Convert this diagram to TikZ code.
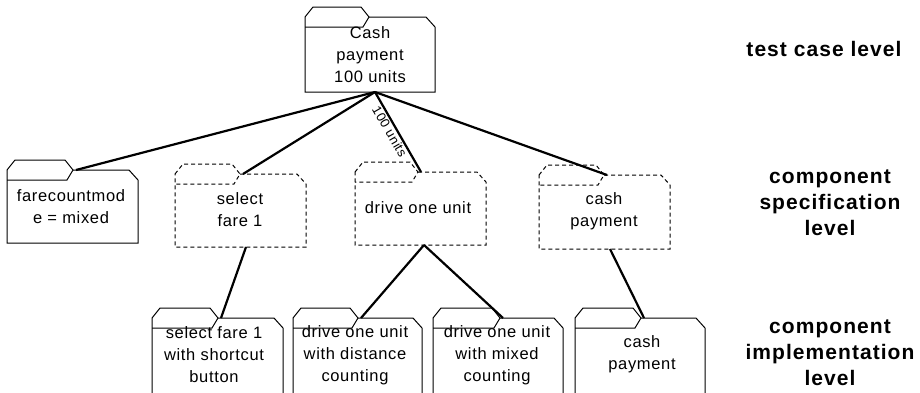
\documentclass[tikz,border=0pt]{standalone}
\usepackage{fontspec}
\setmainfont{Liberation Sans}
\newfontfamily\boxfont[LetterSpace=4]{Liberation Sans}
\newfontfamily\lvlfont[LetterSpace=5]{Liberation Sans}

\tikzset{
  folderline/.style={line width=1pt, black, line join=miter},
  dashedfolder/.style={folderline, dash pattern=on 4pt off 3pt},
  link/.style={line width=2.2pt, black},
  boxtext/.style={font=\boxfont\fontsize{16.5}{22}\selectfont, align=center, inner sep=0pt},
  linklabel/.style={font=\boxfont\fontsize{13}{15}\selectfont, inner sep=1pt},
  leveltext/.style={font=\lvlfont\bfseries\fontsize{21}{26}\selectfont, align=center, inner sep=0pt},
}

% folder outline: #1 name, #2 left x, #3 tab top y, #4 right x, #5 tab tip x, #6 bottom y, #7 line style
\newcommand{\folderbox}[7]{%
  \draw[#7] (#2,#3+10) -- (#2+8,#3) -- (#5-8,#3) -- (#5,#3+10) -- (#5-6,#3+20) -- (#2,#3+20);
  \draw[#7] (#5,#3+10) -- (#4-9,#3+10) -- (#4,#3+20) -- (#4,#6) -- (#2,#6) -- (#2,#3+10);
  \coordinate (#1-tab) at (#5+3,#3+10);
  \coordinate (#1-foot) at (#5+6,#6);
}

\begin{document}
\begin{tikzpicture}[x=1pt,y=-1pt]
  \useasboundingbox (0,0) rectangle (920,392);
  \fill[white] (0,0) rectangle (920,392);
  \clip (0,0) rectangle (920,392);

  % test case level
  \folderbox{cash}{305}{7}{435}{369}{92}{folderline}
  \node[boxtext] (t-cash) at (370,55) {Cash\\payment\\100 units};

  % component specification level
  \folderbox{mode}{7}{160}{138}{73}{243}{folderline}
  \node[boxtext] (t-mode) at (71,207) {farecountmod\\e = mixed};

  \folderbox{fare}{175}{164}{306}{240}{247}{dashedfolder}
  \node[boxtext] (t-fare) at (240,210) {select\\fare 1};

  \folderbox{drive}{355}{162}{486}{418}{245}{dashedfolder}
  \node[boxtext] (t-drive) at (418,208) {drive one unit};

  \folderbox{pay}{539}{165}{670}{604}{249}{dashedfolder}
  \node[boxtext] (t-pay) at (604,211) {cash\\payment};

  % component implementation level
  \folderbox{shortcut}{152}{308}{283}{218}{400}{folderline}
  \node[boxtext] (t-shortcut) at (214,355) {select fare 1\\with shortcut\\button};

  \folderbox{dist}{293}{308}{422}{358}{400}{folderline}
  \node[boxtext] (t-dist) at (355,355) {drive one unit\\with distance\\counting};

  \folderbox{mixed}{433}{308}{563}{500}{400}{folderline}
  \node[boxtext] (t-mixed) at (497,355) {drive one unit\\with mixed\\counting};

  \folderbox{payimpl}{575}{308}{705}{641}{400}{folderline}
  \node[boxtext] (t-payimpl) at (642,354) {cash\\payment};

  % connectors
  \draw[link] (cash-foot) -- (mode-tab);
  \draw[link] (cash-foot) -- (fare-tab);
  \draw[link] (cash-foot) -- node[linklabel, sloped, anchor=north, pos=0.45] (l-units) {100 units} (drive-tab);
  \draw[link] (cash-foot) -- (pay-tab);

  \draw[link] (fare-foot) -- (shortcut-tab);
  \draw[link] (drive-foot) -- (dist-tab);
  \draw[link] (drive-foot) -- (mixed-tab);
  \draw[link] (pay-foot) -- (payimpl-tab);

  % level captions
  \node[leveltext] (lvl-test) at (824,49) {test case level};
  \node[leveltext] (lvl-spec) at (830,203) {component\\specification\\level};
  \node[leveltext] (lvl-impl) at (830,353) {component\\implementation\\level};
\end{tikzpicture}
\end{document}
